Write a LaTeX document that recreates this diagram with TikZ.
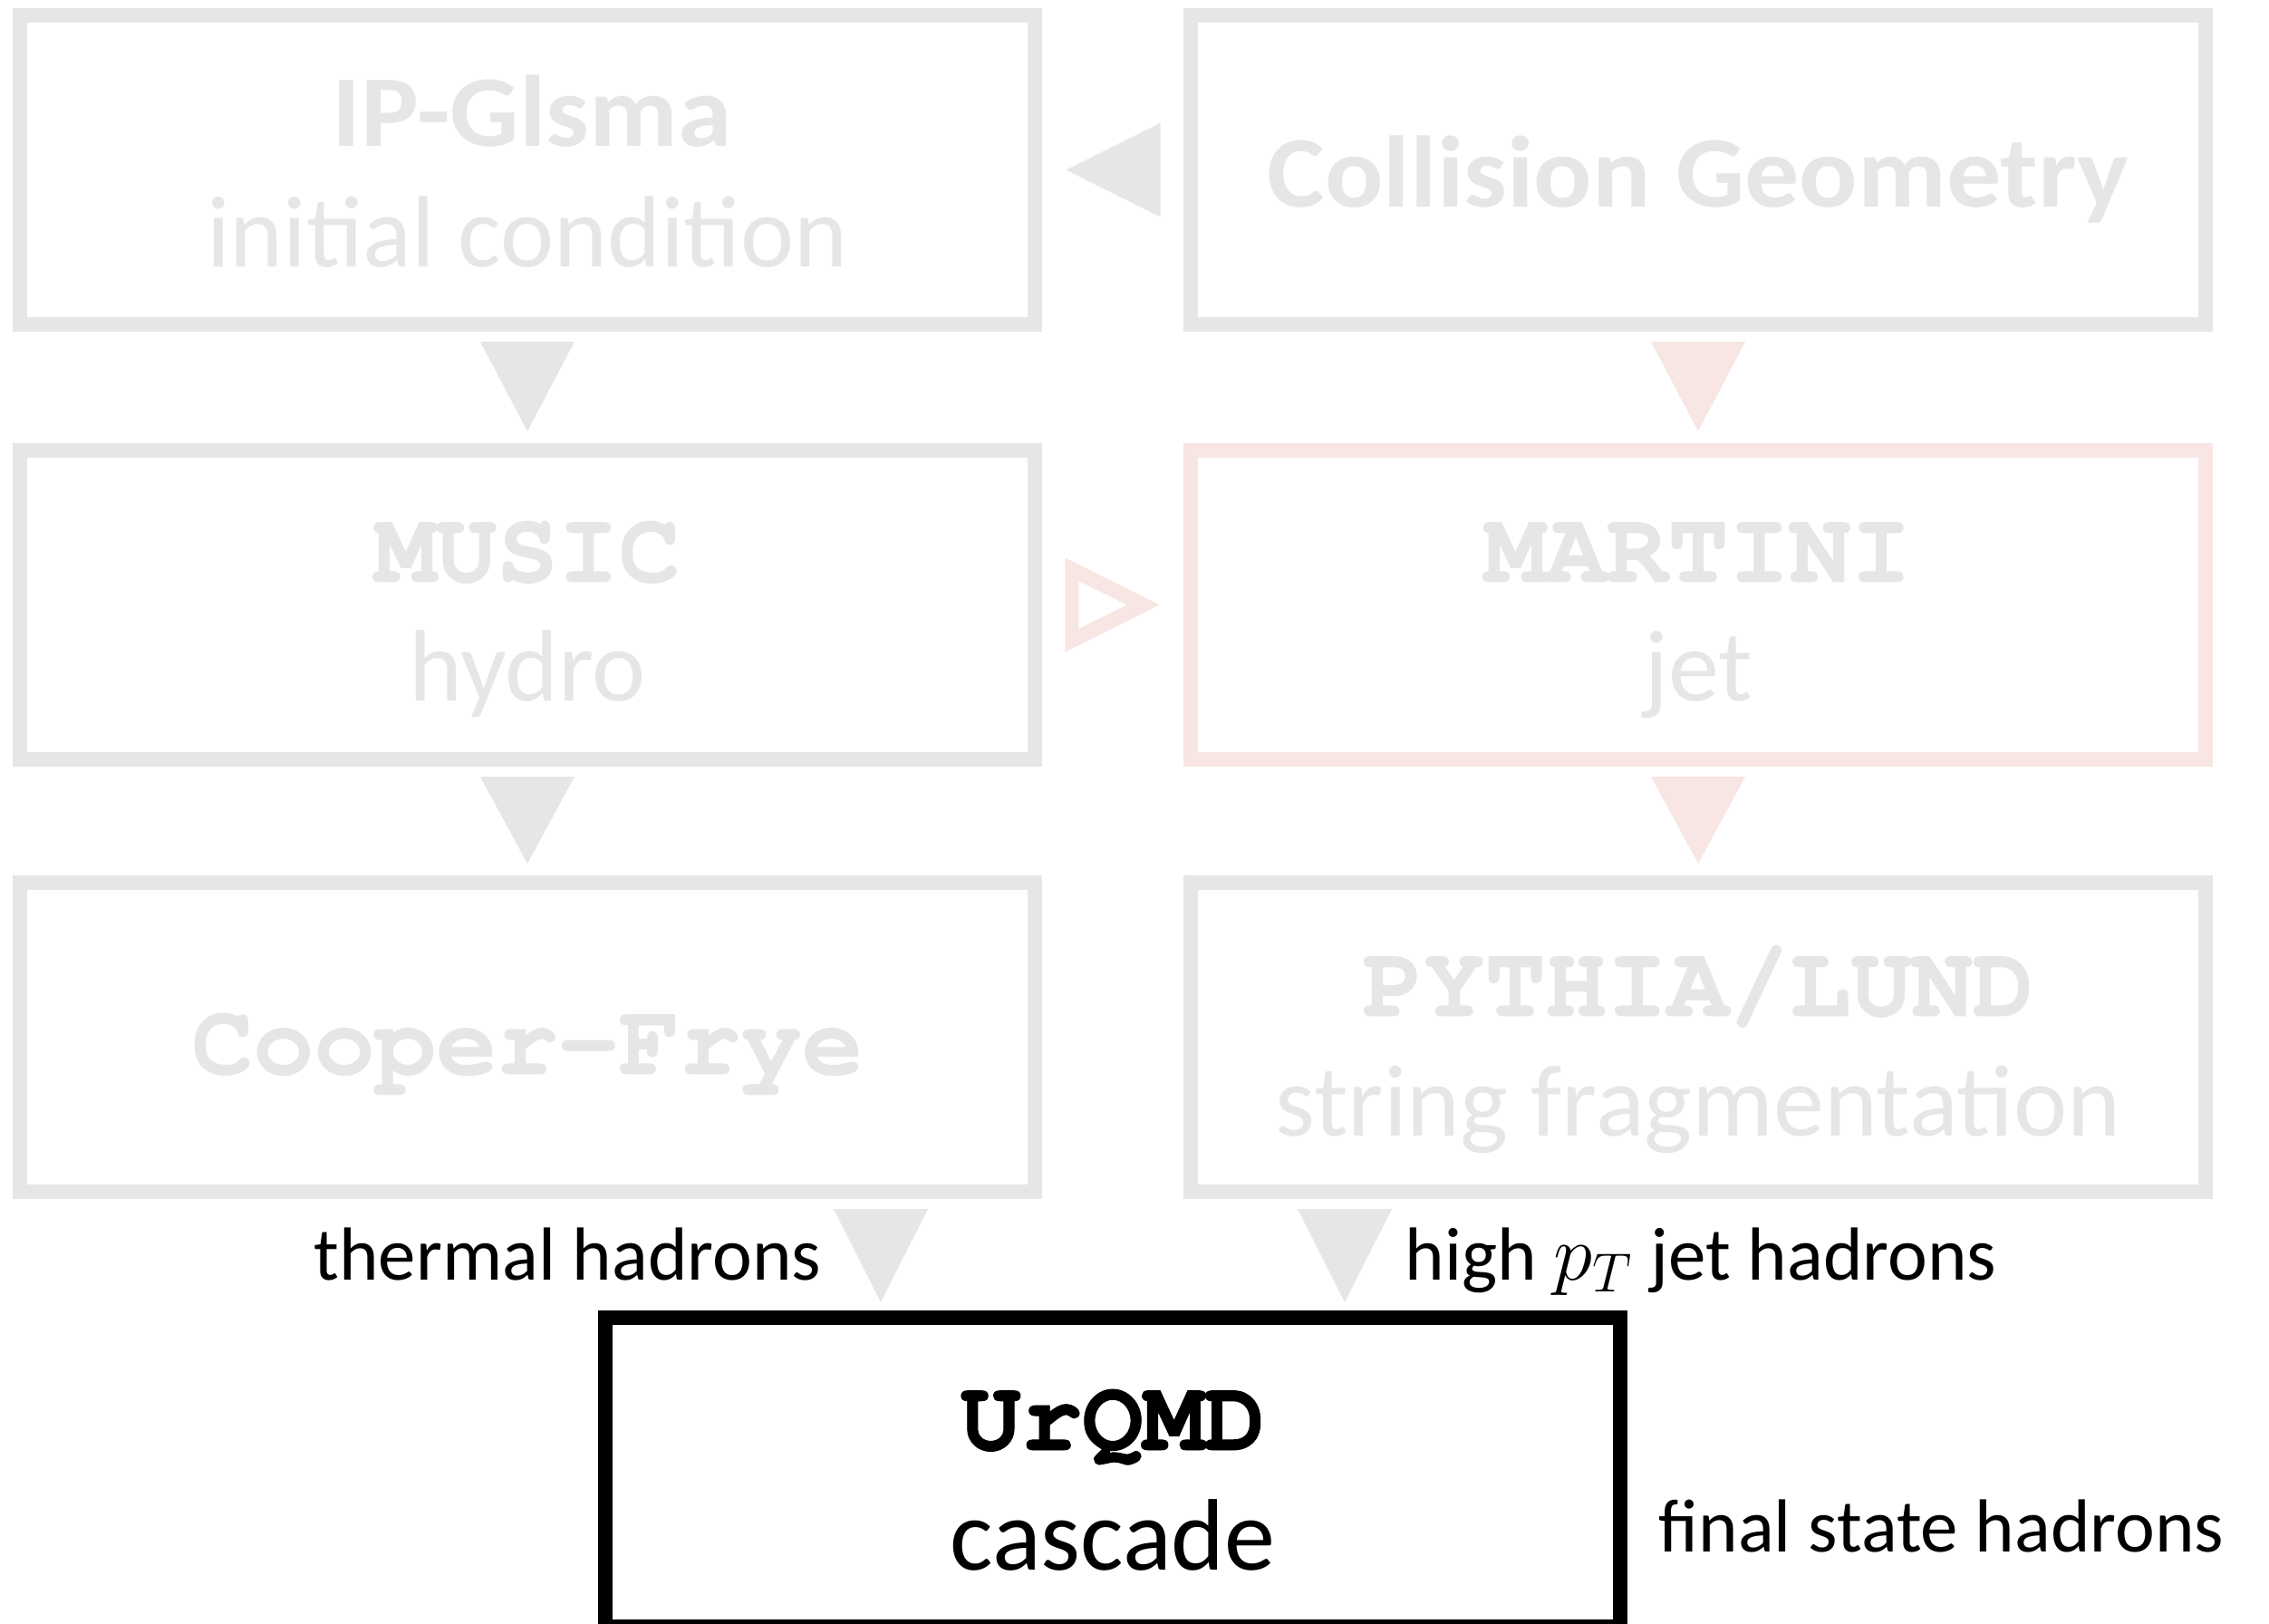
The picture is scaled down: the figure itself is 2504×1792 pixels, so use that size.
\documentclass[tikz,border=0pt]{standalone}
\usepackage{fontspec}
\setmainfont{Carlito}
\newfontfamily\codefont{TeX Gyre Cursor}[BoldFeatures={FakeBold=0.8}]
\usetikzlibrary{calc}

\definecolor{fade}{RGB}{230,230,230}
\definecolor{fadepink}{RGB}{247,230,227}

% one unit = 0.01cm, y grows downwards
\newcommand\bigtext{\fontsize{31.9pt}{36pt}\selectfont}
\newcommand\smalltext{\fontsize{23.6pt}{28pt}\selectfont}

\begin{document}
\begin{tikzpicture}[x=0.01cm, y=-0.01cm,
  stage/.style={draw=fade, line width=4.55pt, minimum width=11.2cm,
    minimum height=3.41cm, inner sep=0pt, outer sep=0pt},
  title/.style={anchor=base, inner sep=0pt, text=fade, font=\bigtext\codefont\bfseries},
  sub/.style={anchor=base, inner sep=0pt, text=fade, font=\bigtext},
  head/.style={sub, font=\bigtext\bfseries},
  note/.style={inner sep=0pt, font=\smalltext}]

\useasboundingbox (0,0) rectangle (2504,1792);

% stages
\node[stage] (ipg) at (582,187.5) {};
\node[stage] (geo) at (1874,187.5) {};
\node[stage] (music) at (582,667.5) {};
\node[stage, draw=fadepink] (martini) at (1874,667.5) {};
\node[stage] (cooper) at (582,1144.5) {};
\node[stage] (pythia) at (1874,1144.5) {};
\node[stage, draw=black] (urqmd) at (1228,1624.5) {};

% stage texts
\node[head] (ipgA) at (587,162) {\scalebox{1.07}[1]{IP-Glsma}};
\node[sub] (ipgB) at (582,295) {initial condition};
\node[head] (geoA) at (1874,229) {\scalebox{1.07}[1]{Collision Geometry}};
\node[title] (musicA) at (582,642) {MUSIC};
\node[sub] (musicB) at (582,774) {hydro};
\node[title] (martiniA) at (1874,642) {MARTINI};
\node[sub] (martiniB) at (1874,774) {jet};
\node[title] (cooperA) at (582,1185) {Cooper-Frye};
\node[title] (pythiaA) at (1874,1121) {PYTHIA/LUND};
\node[sub] (pythiaB) at (1874,1253) {string fragmentation};
\node[title, text=black] (urqmdA) at (1228,1600) {UrQMD};
\node[sub, text=black] (urqmdB) at (1228,1732) {cascade};

% flow arrows
\newcommand\downtri[3]{%
  \fill[#3] ($(#1.south)+(-52,19)$) -- ($(#1.south)+(52,19)$)
    -- ($(#2.north)+(0,-21)$) -- cycle;}
\downtri{ipg}{music}{fade}
\downtri{music}{cooper}{fade}
\downtri{geo}{martini}{fadepink}
\downtri{martini}{pythia}{fadepink}

\fill[fade] ($(geo.west)+(-33,-52)$) -- ($(geo.west)+(-33,52)$)
  -- ($(ipg.east)+(34,0)$) -- cycle;

\fill[fadepink, even odd rule]
  ($(music.east)+(33,-52)$) -- ($(music.east)+(33,52)$) -- ($(martini.west)+(-34,0)$) -- cycle
  ($(music.east)+(48,-26.5)$) -- ($(music.east)+(48,26.5)$) -- ($(martini.west)+(-70,0)$) -- cycle;

\fill[fade] ($(cooper.south)+(338,19)$) -- ($(cooper.south)+(442,19)$)
  -- ($(urqmd.north)+(-256,-17)$) -- cycle;
\fill[fade] ($(pythia.south)+(-442,19)$) -- ($(pythia.south)+(-338,19)$)
  -- ($(urqmd.north)+(256,-17)$) -- cycle;

% stream labels
\node[note, anchor=base east] (thermal) at (907,1412) {thermal hadrons};
\node[note, anchor=base west] (jethad) at (1550,1412) {high $p_T$ jet hadrons};
\node[note, anchor=base west] (final) at (1830,1712) {final state hadrons};
\end{tikzpicture}
\end{document}
